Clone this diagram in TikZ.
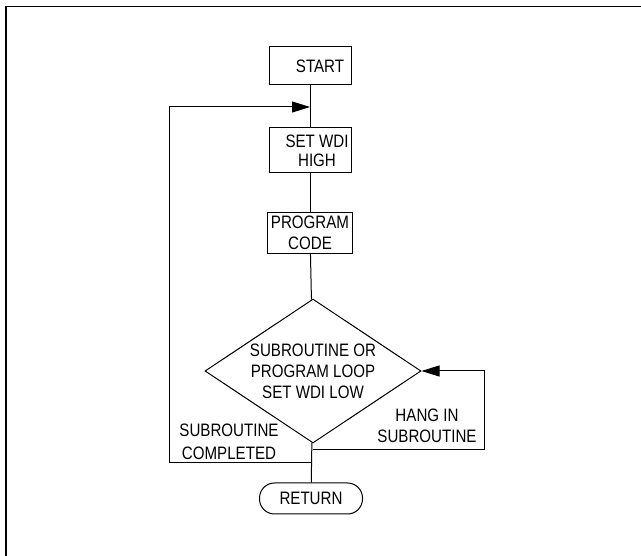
\documentclass[tikz,border=0pt]{standalone}
\usepackage{fontspec}
\setmainfont{Liberation Sans}[FakeStretch=0.84]
\usetikzlibrary{shapes.geometric,arrows.meta}

\begin{document}
\begin{tikzpicture} [
                x=1pt, y=-1pt,
                every node/.style={font=\fontsize{18pt}{21pt}\selectfont, align=center, inner sep=0pt},
                box/.style={draw, line width=1pt},
                decision/.style={draw, diamond, aspect=1.5, line width=1pt, minimum width=216pt, minimum height=144pt},
                terminal/.style={draw, rounded corners=15pt, line width=1pt, minimum width=103pt, minimum height=31pt},
                flow/.style={draw, line width=1pt},
                loop arrow/.style={flow, -{Triangle[length=18pt,width=11pt]}},
            ]
            \useasboundingbox (0,0) rectangle (641,556);
            % open frame round the chart
            \draw[line width=1.8pt] (6,556) -- (6,6.5) -- (641,6.5);
            % First we draw the steps
            \node[box, minimum width=82pt, minimum height=38pt] (start) at (310,66) {\hspace*{20pt}START};
            \node[box, minimum width=82pt, minimum height=45pt, font=\fontsize{18pt}{19pt}\selectfont] (setwdi) at (310,150.5) {\hspace*{14pt}SET WDI\\\hspace*{14pt}HIGH};
            \node[box, minimum width=85pt, minimum height=41pt] (code) at (310,233) {PROGRAM\\CODE};
            \node[decision] (check) at (313,371) {SUBROUTINE OR\\PROGRAM LOOP\\SET WDI LOW};
            \node[terminal] (ret) at (311,498.5) {RETURN};
            % branch texts
            \node[font=\fontsize{18pt}{23pt}\selectfont] (completed) at (229,442) {SUBROUTINE\\COMPLETED};
            \node (hang) at (427,426) {HANG IN\\SUBROUTINE};
            % points where the loops leave and join the main line
            \coordinate (entry) at (310,107);
            \coordinate (hangtap) at (312.6,450);
            \coordinate (hangright) at (484,450);
            \coordinate (donetap) at (312,463);
            \coordinate (doneleft) at (169,463);
            % Connect the steps
            \foreach \source/ \dest in {
                    start/setwdi, setwdi/code, code/check, check/ret}
                \path[flow] (\source) -- (\dest);
            % the two loops back
            \path[loop arrow] (hangtap) -- (hangright) |- (check.east);
            \path[loop arrow] (donetap) -- (doneleft) |- (entry);
        \end{tikzpicture}
\end{document}
